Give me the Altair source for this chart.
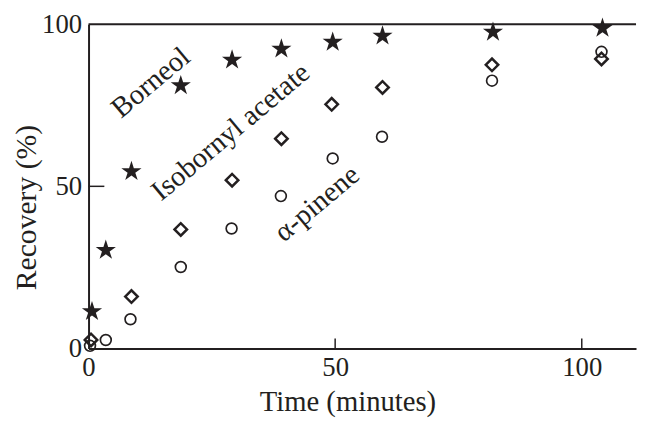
import altair as alt
import pandas as pd

# ---- data ----
borneol_t = [0.7, 3.5, 8.7, 18.7, 29.1, 39.1, 49.5, 59.6, 82.0, 104.2]
borneol_r = [11.7, 30.6, 54.9, 81.4, 89.3, 92.7, 94.8, 96.7, 97.9, 99.1]

isobornyl_t = [0.5, 8.7, 18.7, 29.1, 39.1, 49.3, 59.6, 81.8, 104.0]
isobornyl_r = [2.6, 16.0, 36.7, 51.9, 64.7, 75.3, 80.5, 87.5, 89.3]

pinene_t = [0.3, 3.5, 8.5, 18.7, 29.0, 39.0, 49.5, 59.5, 81.8, 104.0]
pinene_r = [0.8, 2.6, 9.0, 25.1, 37.0, 47.0, 58.6, 65.3, 82.6, 91.5]

label_text = ["Borneol", "Isobornyl acetate", "α-pinene"]
label_t = [12.6, 28.8, 46.3]
label_r = [82.0, 66.8, 44.7]

tick_values = [0, 50, 100]
inner_x_ticks = [50, 100]
inner_y_ticks = [50]

FONT = "Liberation Serif"
INK = "#231f20"
W, H = 554, 328

STAR = ("M0,-0.905 L0.225,-0.214 L0.951,-0.214 L0.363,0.213 L0.588,0.904 "
        "L0,0.477 L-0.588,0.904 L-0.363,0.213 L-0.951,-0.214 L-0.225,-0.214 Z")

df_b = pd.DataFrame({"time": borneol_t, "recovery": borneol_r})
df_i = pd.DataFrame({"time": isobornyl_t, "recovery": isobornyl_r})
df_p = pd.DataFrame({"time": pinene_t, "recovery": pinene_r})
df_l = pd.DataFrame({"label": label_text, "time": label_t, "recovery": label_r})

xscale = alt.Scale(domain=[0, 111], nice=False, zero=False)
yscale = alt.Scale(domain=[0, 100], nice=False)

xaxis = alt.Axis(values=tick_values, ticks=False, grid=False, domainColor=INK,
                 domainWidth=2, labelFont=FONT, labelFontSize=27, labelColor=INK,
                 labelPadding=6, labelFlush=False, labelOverlap=False,
                 title="Time (minutes)", titleFont=FONT, titleFontSize=29,
                 titleFontWeight="normal", titleColor=INK, titleX=262, titleY=63,
                 titleBaseline="alphabetic")
yaxis = alt.Axis(values=tick_values, ticks=False, grid=False, domainColor=INK,
                 domainWidth=2, labelFont=FONT, labelFontSize=27, labelColor=INK,
                 labelPadding=7, labelFlush=False, labelOverlap=False,
                 labelBaseline="middle",
                 title="Recovery (%)", titleFont=FONT, titleFontSize=30,
                 titleFontWeight="normal", titleColor=INK, titleX=-54, titleY=185,
                 titleBaseline="alphabetic")

X = alt.X("time:Q", scale=xscale, axis=xaxis)
Y = alt.Y("recovery:Q", scale=yscale, axis=yaxis)

stars = alt.Chart(df_b).mark_point(shape=STAR, filled=True, size=460,
                                   color=INK, opacity=1).encode(x=X, y=Y)
diamonds = alt.Chart(df_i).mark_point(shape="diamond", filled=False, size=160,
                                      strokeWidth=2.5, color=INK, opacity=1).encode(
    x=X, y=Y)
circles = alt.Chart(df_p).mark_point(shape="circle", filled=False, size=120,
                                     strokeWidth=1.7, color=INK, opacity=1).encode(
    x=X, y=Y)

labels = alt.Chart(df_l).mark_text(angle=320, font=FONT, fontSize=29, color=INK,
                                   align="center", baseline="middle").encode(
    x=X, y=Y, text="label:N")

top_border = alt.Chart(pd.DataFrame({"recovery": [100]})).mark_rule(
    color=INK, strokeWidth=2).encode(y=Y, x=alt.value(0), x2=alt.value(W))

x_ticks = alt.Chart(pd.DataFrame({"time": inner_x_ticks})).mark_rule(
    color=INK, strokeWidth=1.5).encode(x=X, y=alt.value(H), y2=alt.value(H - 10))

y_ticks = alt.Chart(pd.DataFrame({"recovery": inner_y_ticks})).mark_rule(
    color=INK, strokeWidth=1.5).encode(y=Y, x=alt.value(0), x2=alt.value(16))

chart = alt.layer(stars, diamonds, circles, labels, top_border, x_ticks, y_ticks).properties(
    width=W, height=H,
    autosize=alt.AutoSizeParams(type="none"),
    padding={"left": 81.5, "top": 14, "right": 2, "bottom": 70},
    background="white",
).configure_view(stroke=None)

chart.save("out.html", embed_options={"renderer": "svg", "actions": False})
